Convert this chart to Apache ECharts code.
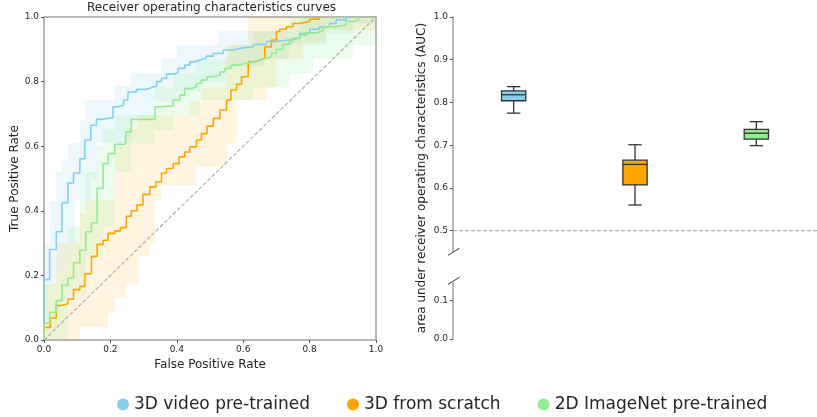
<!DOCTYPE html>
<html>
<head>
<meta charset="utf-8">
<script src="https://cdn.jsdelivr.net/npm/echarts@6/dist/echarts.min.js"></script>
<style>
  * { margin: 0; padding: 0; }
  #main { width: 817px; height: 417px; }
</style>
</head>
<body>
<div id="main"></div>
<script>
var names = ['3D video pre-trained', '3D from scratch', '2D ImageNet pre-trained']
var colors = ['#87CEEB', '#FFA500', '#90EE90']
var bandColors = ['rgba(135,206,235,0.15)', 'rgba(255,165,0,0.12)', 'rgba(144,238,144,0.17)']

// mean ROC curves: tpr reached after the step at each fpr
var blueFpr = [0, 0, 0.017, 0.037, 0.054, 0.072, 0.089, 0.108, 0.123, 0.141, 0.158, 0.173, 0.208, 0.223, 0.24, 0.253, 0.278, 0.309, 0.324, 0.339, 0.354, 0.369, 0.389, 0.404, 0.424, 0.439, 0.454, 0.469, 0.489, 0.51, 0.54, 0.57, 0.59, 0.63, 0.67, 0.70, 0.74, 0.77, 0.80, 0.83, 0.86, 0.88, 0.91]
var blueTpr = [0, 0.187, 0.28, 0.335, 0.425, 0.486, 0.517, 0.561, 0.619, 0.665, 0.683, 0.689, 0.722, 0.727, 0.743, 0.768, 0.776, 0.782, 0.786, 0.80, 0.81, 0.823, 0.827, 0.841, 0.851, 0.861, 0.867, 0.872, 0.879, 0.887, 0.898, 0.903, 0.908, 0.915, 0.924, 0.929, 0.934, 0.949, 0.962, 0.97, 0.98, 0.991, 1.0]

var orangeFpr = [0, 0, 0.019, 0.037, 0.052, 0.072, 0.089, 0.108, 0.123, 0.143, 0.16, 0.178, 0.193, 0.213, 0.23, 0.248, 0.263, 0.28, 0.298, 0.319, 0.337, 0.354, 0.369, 0.389, 0.407, 0.424, 0.439, 0.459, 0.474, 0.491, 0.51, 0.53, 0.55, 0.563, 0.58, 0.595, 0.615, 0.63, 0.65, 0.665, 0.685, 0.70, 0.71, 0.73, 0.75, 0.77, 0.80, 0.83]
var orangeTpr = [0, 0.039, 0.068, 0.107, 0.112, 0.126, 0.156, 0.166, 0.205, 0.259, 0.296, 0.309, 0.33, 0.338, 0.348, 0.383, 0.40, 0.418, 0.451, 0.474, 0.49, 0.517, 0.531, 0.546, 0.567, 0.582, 0.598, 0.619, 0.639, 0.662, 0.686, 0.712, 0.743, 0.774, 0.792, 0.815, 0.861, 0.867, 0.872, 0.908, 0.929, 0.955, 0.962, 0.97, 0.98, 0.986, 0.993, 1.0]

var greenFpr = [0, 0, 0.017, 0.037, 0.054, 0.072, 0.089, 0.108, 0.126, 0.143, 0.16, 0.178, 0.193, 0.213, 0.246, 0.263, 0.334, 0.354, 0.389, 0.409, 0.424, 0.444, 0.459, 0.474, 0.491, 0.51, 0.53, 0.545, 0.565, 0.58, 0.605, 0.63, 0.65, 0.67, 0.685, 0.70, 0.72, 0.74, 0.75, 0.77, 0.79, 0.82, 0.84, 0.88, 0.91, 0.93, 0.947]
var greenTpr = [0, 0.052, 0.086, 0.122, 0.169, 0.192, 0.239, 0.278, 0.335, 0.363, 0.47, 0.546, 0.577, 0.606, 0.644, 0.683, 0.722, 0.725, 0.743, 0.758, 0.779, 0.784, 0.794, 0.805, 0.815, 0.82, 0.83, 0.841, 0.851, 0.856, 0.861, 0.867, 0.872, 0.877, 0.887, 0.90, 0.916, 0.924, 0.934, 0.944, 0.951, 0.957, 0.97, 0.975, 0.986, 0.991, 1.0]

// +-1 std bands: segment edges on fpr, low / high tpr for each segment
var blueBandX = [0, 0.017, 0.037, 0.054, 0.072, 0.093, 0.108, 0.123, 0.14, 0.16, 0.213, 0.263, 0.33, 0.354, 0.40, 0.47, 0.524, 0.55, 0.66, 0.74, 0.77, 0.85, 0.93, 1.0]
var blueBandHi = [0.30, 0.43, 0.52, 0.56, 0.61, 0.61, 0.68, 0.743, 0.743, 0.743, 0.786, 0.827, 0.827, 0.872, 0.913, 0.913, 0.957, 0.957, 0.957, 0.957, 1.0, 1.0, 1.0]
var blueBandLo = [0.174, 0.174, 0.218, 0.218, 0.30, 0.435, 0.435, 0.435, 0.50, 0.61, 0.61, 0.69, 0.74, 0.74, 0.77, 0.80, 0.80, 0.845, 0.87, 0.915, 0.915, 0.95, 0.98]

var orangeBandX = [0, 0.037, 0.108, 0.123, 0.193, 0.213, 0.248, 0.283, 0.317, 0.334, 0.354, 0.44, 0.459, 0.474, 0.494, 0.55, 0.58, 0.615, 0.67, 0.70, 0.78, 0.85, 1.0]
var orangeBandHi = [0.174, 0.30, 0.39, 0.433, 0.433, 0.60, 0.655, 0.696, 0.696, 0.696, 0.696, 0.74, 0.74, 0.782, 0.782, 0.913, 0.913, 1.0, 1.0, 1.0, 1.0, 1.0]
var orangeBandLo = [0, 0, 0.04, 0.04, 0.083, 0.13, 0.172, 0.26, 0.30, 0.433, 0.48, 0.48, 0.536, 0.536, 0.536, 0.608, 0.743, 0.743, 0.782, 0.87, 0.92, 0.96]

var greenBandX = [0, 0.037, 0.072, 0.108, 0.126, 0.16, 0.178, 0.213, 0.263, 0.334, 0.389, 0.459, 0.47, 0.56, 0.63, 0.67, 0.74, 0.81, 0.93, 1.0]
var greenBandHi = [0.174, 0.218, 0.35, 0.433, 0.52, 0.603, 0.65, 0.696, 0.696, 0.782, 0.825, 0.869, 0.869, 0.913, 0.957, 0.957, 1.0, 1.0, 1.0]
var greenBandLo = [0, 0, 0.138, 0.138, 0.26, 0.26, 0.35, 0.52, 0.608, 0.65, 0.696, 0.696, 0.743, 0.743, 0.782, 0.782, 0.825, 0.87, 0.913]

// AUC box plots: [position, min, q1, median, q3, max]
var aucBoxes = [
  [0, 0.775, 0.804, 0.818, 0.827, 0.837],
  [1, 0.560, 0.607, 0.655, 0.665, 0.701],
  [2, 0.699, 0.714, 0.728, 0.737, 0.755]
]
var aucTicksTop = [0.5, 0.6, 0.7, 0.8, 0.9, 1.0]
var aucTicksBottom = [0, 0.1]

var font = 'DejaVu Sans'
var txt = '#262626'
var spine = '#a0a0a0'

function zip(xs, ys) {
  return xs.map(function (x, i) { return [x, ys[i]] })
}

function rocLine(name, color, xs, ys) {
  return {
    name: name, type: 'line', xAxisIndex: 0, yAxisIndex: 0,
    data: zip(xs, ys), step: 'end', showSymbol: false, z: 3,
    color: color, lineStyle: { color: color, width: 1.6 }
  }
}

function band(xs, lo, hi, color) {
  return {
    type: 'custom', xAxisIndex: 0, yAxisIndex: 0, silent: true, z: 1,
    data: [[0, 0]],
    renderItem: function (params, api) {
      var pts = []
      for (var i = 0; i < lo.length; i++) {
        pts.push(api.coord([xs[i], hi[i]]), api.coord([xs[i + 1], hi[i]]))
      }
      for (var j = lo.length - 1; j >= 0; j--) {
        pts.push(api.coord([xs[j + 1], lo[j]]), api.coord([xs[j], lo[j]]))
      }
      return { type: 'polygon', shape: { points: pts }, style: { fill: color } }
    }
  }
}

function fmt(v) { return v.toFixed(1) }

var chart = echarts.init(document.getElementById('main'))

var option = {
  animation: false,
  backgroundColor: '#fff',
  textStyle: { fontFamily: font },
  title: {
    text: 'Receiver operating characteristics curves',
    left: 87, top: 2, padding: 0,
    textStyle: { fontFamily: font, fontSize: 12, fontWeight: 'normal', color: txt }
  },
  legend: {
    data: names, icon: 'circle', left: 112, top: 391,
    itemWidth: 12, itemHeight: 12, itemGap: 37,
    textStyle: { fontFamily: font, fontSize: 17, color: txt }
  },
  grid: [
    { left: 44, top: 17, width: 332, height: 323, show: true, borderColor: spine, borderWidth: 1.5 },
    { left: 453, top: 17, right: -10, height: 235 },
    { left: 453, top: 281, right: -10, height: 58 }
  ],
  xAxis: [
    {
      gridIndex: 0, type: 'value', min: 0, max: 1, interval: 0.2,
      name: 'False Positive Rate', nameLocation: 'middle', nameGap: 12,
      nameTextStyle: { fontFamily: font, fontSize: 12, color: txt },
      axisLine: { show: false },
      axisTick: { show: true, length: 3, lineStyle: { color: '#555' } },
      axisLabel: { fontSize: 9, color: txt, margin: 5, formatter: fmt },
      splitLine: { show: false }
    },
    { gridIndex: 1, type: 'value', min: -0.5, max: 2.5, show: false, axisLine: { onZero: false } },
    { gridIndex: 2, type: 'value', min: -0.5, max: 2.5, show: false, axisLine: { onZero: false } }
  ],
  yAxis: [
    {
      gridIndex: 0, type: 'value', min: 0, max: 1, interval: 0.2,
      name: 'True Positive Rate', nameLocation: 'middle', nameGap: 18,
      nameTextStyle: { fontFamily: font, fontSize: 12, color: txt },
      axisLine: { show: false },
      axisTick: { show: true, length: 3, lineStyle: { color: '#555' } },
      axisLabel: { fontSize: 9, color: txt, margin: 5, formatter: fmt },
      splitLine: { show: false }
    },
    {
      gridIndex: 1, type: 'value', min: 0.45, max: 1.0,
      axisLine: { show: true, onZero: false, lineStyle: { color: spine, width: 1.5 } },
      axisTick: { show: true, length: 3, customValues: aucTicksTop, lineStyle: { color: '#555' } },
      axisLabel: { fontSize: 9, color: txt, margin: 5, customValues: aucTicksTop, formatter: fmt },
      splitLine: { show: false }
    },
    {
      gridIndex: 2, type: 'value', min: 0, max: 0.15,
      axisLine: { show: true, onZero: false, lineStyle: { color: spine, width: 1.5 } },
      axisTick: { show: true, length: 3, customValues: aucTicksBottom, lineStyle: { color: '#555' } },
      axisLabel: { fontSize: 9, color: txt, margin: 5, customValues: aucTicksBottom, formatter: fmt },
      splitLine: { show: false }
    }
  ],
  series: [
    band(blueBandX, blueBandLo, blueBandHi, bandColors[0]),
    band(orangeBandX, orangeBandLo, orangeBandHi, bandColors[1]),
    band(greenBandX, greenBandLo, greenBandHi, bandColors[2]),
    {
      type: 'line', xAxisIndex: 0, yAxisIndex: 0, data: [[0, 0], [1, 1]],
      showSymbol: false, silent: true, z: 2,
      lineStyle: { color: '#b0b0b0', width: 1.2, type: [4, 2] }
    },
    rocLine(names[0], colors[0], blueFpr, blueTpr),
    rocLine(names[1], colors[1], orangeFpr, orangeTpr),
    rocLine(names[2], colors[2], greenFpr, greenTpr),
    {
      type: 'line', xAxisIndex: 1, yAxisIndex: 1, data: [[-0.5, 0.5], [2.5, 0.5]],
      showSymbol: false, silent: true, z: 1,
      lineStyle: { color: '#b0b0b0', width: 1.2, type: [4, 2] }
    },
    {
      type: 'custom', xAxisIndex: 1, yAxisIndex: 1, silent: true, z: 3,
      data: aucBoxes,
      renderItem: function (params, api) {
        var x = api.value(0)
        var lo = api.coord([x, api.value(1)])
        var q1 = api.coord([x, api.value(2)])
        var med = api.coord([x, api.value(3)])
        var q3 = api.coord([x, api.value(4)])
        var hi = api.coord([x, api.value(5)])
        var bw = api.size([0.2, 0])[0]
        var cw = api.size([0.11, 0])[0]
        var st = { stroke: '#333', lineWidth: 1.3 }
        function seg(x1, y1, x2, y2) {
          return { type: 'line', shape: { x1: x1, y1: y1, x2: x2, y2: y2 }, style: st }
        }
        return {
          type: 'group',
          children: [
            seg(lo[0], lo[1], q1[0], q1[1]),
            seg(hi[0], hi[1], q3[0], q3[1]),
            seg(lo[0] - cw / 2, lo[1], lo[0] + cw / 2, lo[1]),
            seg(hi[0] - cw / 2, hi[1], hi[0] + cw / 2, hi[1]),
            {
              type: 'rect',
              shape: { x: q3[0] - bw / 2, y: q3[1], width: bw, height: q1[1] - q3[1] },
              style: { fill: colors[params.dataIndex], stroke: '#333', lineWidth: 1.3 }
            },
            seg(med[0] - bw / 2, med[1], med[0] + bw / 2, med[1])
          ]
        }
      }
    }
  ]
}

chart.setOption(option)

// axis break marks and the shared AUC axis title
var topEnd = chart.convertToPixel({ xAxisIndex: 1, yAxisIndex: 1 }, [-0.5, 0.45])
var botEnd = chart.convertToPixel({ xAxisIndex: 2, yAxisIndex: 2 }, [-0.5, 0.15])
var mid = (chart.convertToPixel({ xAxisIndex: 1, yAxisIndex: 1 }, [-0.5, 1.0])[1] +
  chart.convertToPixel({ xAxisIndex: 2, yAxisIndex: 2 }, [-0.5, 0])[1]) / 2
function slash(p) {
  return {
    type: 'line', silent: true,
    shape: { x1: p[0] - 5, y1: p[1] + 3.3, x2: p[0] + 6.5, y2: p[1] - 3.7 },
    style: { stroke: '#333', lineWidth: 1 }
  }
}
chart.setOption({
  graphic: [
    slash(topEnd),
    slash(botEnd),
    {
      type: 'text', silent: true, x: 422, y: mid, rotation: Math.PI / 2,
      style: {
        text: 'area under receiver operating characteristics (AUC)',
        fontFamily: font, fontSize: 12, fill: txt, align: 'center', verticalAlign: 'middle'
      }
    }
  ]
})
</script>
</body>
</html>
